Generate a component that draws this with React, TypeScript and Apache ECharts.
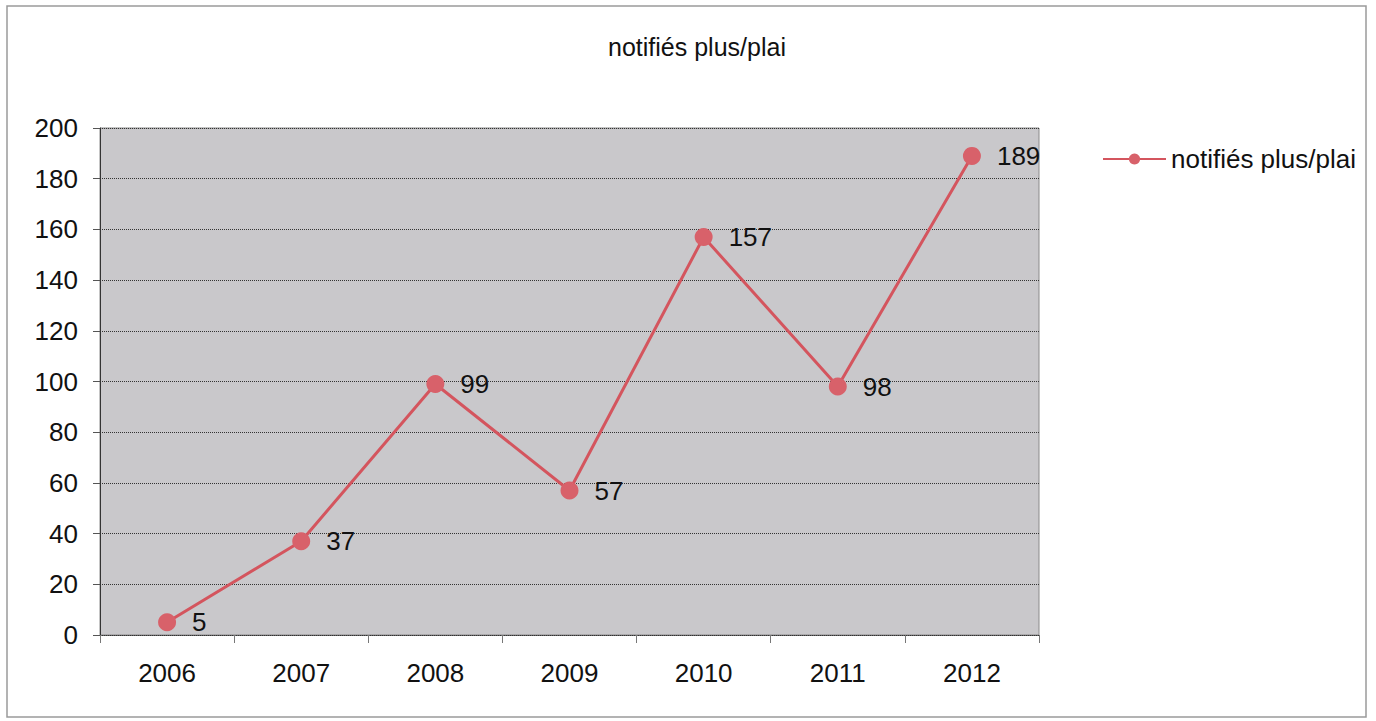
import React, { useEffect, useRef } from "react";
import * as echarts from "echarts";

const categories = ["2006", "2007", "2008", "2009", "2010", "2011", "2012"];
const values = [5, 37, 99, 57, 157, 98, 189];
const seriesName = "notifiés plus/plai";
const titleText = "notifiés plus/plai";

export default function App() {
  const ref = useRef<HTMLDivElement>(null);
  useEffect(() => {
    if (!ref.current) return;
    const chart = echarts.init(ref.current, undefined, { renderer: "svg" });
    const font = "'Liberation Sans', Arial, sans-serif";
    chart.setOption({
      animation: false,
      backgroundColor: "#ffffff",
      textStyle: { fontFamily: font },
      title: {
        text: titleText,
        left: 692,
        top: 29,
        textAlign: "center",
        textStyle: { fontSize: 25, fontWeight: "normal", color: "#111", fontFamily: font },
      },
      legend: {
        left: 1097,
        top: 141,
        itemWidth: 63,
        itemHeight: 14,
        itemGap: 8,
        textStyle: { fontSize: 26, color: "#111", fontFamily: font },
        data: [seriesName],
      },
      graphic: [
        {
          type: "rect",
          shape: { x: 7, y: 6, width: 1359, height: 711 },
          style: { fill: "none", stroke: "#9a9a9a", lineWidth: 1.5 },
          silent: true,
        },
      ],
      grid: {
        left: 100,
        top: 128,
        width: 939,
        height: 507,
        show: true,
        backgroundColor: "#c9c8cb",
        borderColor: "#8a8a8a",
        borderWidth: 1,
      },
      xAxis: {
        type: "category",
        data: categories,
        boundaryGap: true,
        axisLine: { show: true, lineStyle: { color: "#333", width: 1, type: "dotted" } },
        axisTick: { show: true, length: 8, lineStyle: { color: "#777" } },
        axisLabel: { fontSize: 26, color: "#111", margin: 25, fontFamily: font },
      },
      yAxis: {
        type: "value",
        min: 0,
        max: 200,
        interval: 20,
        axisLine: { show: true, lineStyle: { color: "#333", width: 1 } },
        axisTick: { show: true, length: 7, lineStyle: { color: "#555" } },
        axisLabel: { fontSize: 26, color: "#111", margin: 22, fontFamily: font },
        splitLine: { show: true, lineStyle: { color: "#333", width: 1, type: "dotted" } },
      },
      series: [
        {
          name: seriesName,
          type: "line",
          data: values,
          symbol: "circle",
          symbolSize: 18,
          lineStyle: { color: "#d4555e", width: 3 },
          itemStyle: { color: "#d8616a" },
          label: {
            show: true,
            position: "right",
            distance: 16,
            fontSize: 26,
            color: "#111",
            fontFamily: font,
          },
        },
      ],
    });
    return () => chart.dispose();
  }, []);
  return (
    <div
      ref={ref}
      style={{ position: "fixed", left: 0, top: 0, width: 1376, height: 721 }}
    />
  );
}
